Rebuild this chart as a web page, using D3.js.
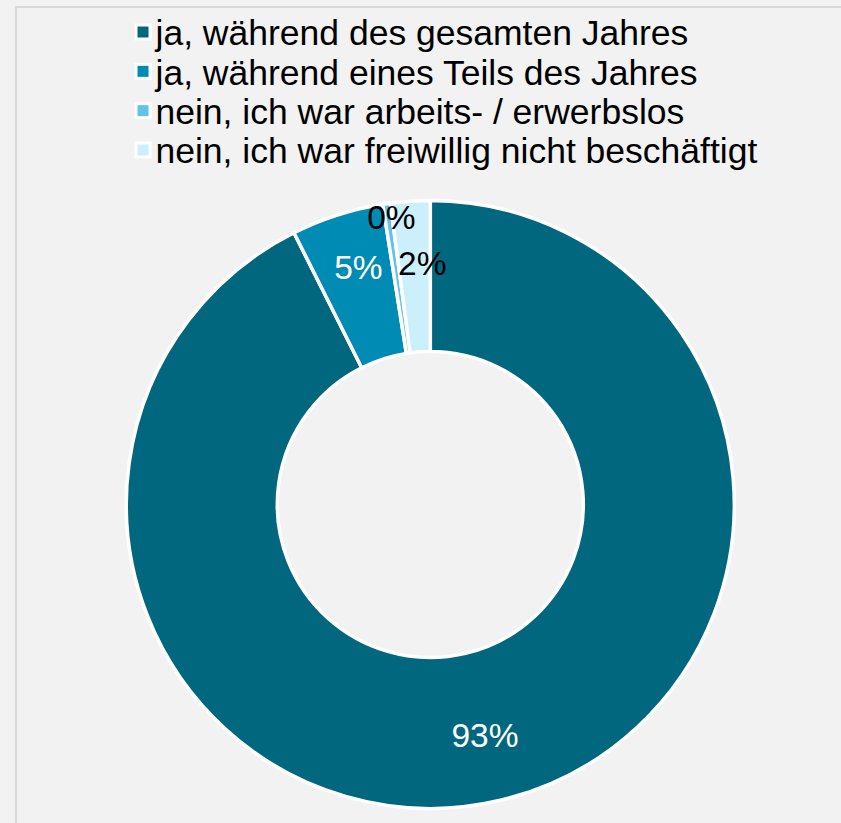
<!DOCTYPE html>
<html>
<head>
    <meta charset="utf-8">
    <script src="https://cdn.jsdelivr.net/npm/d3@7"></script>
    <style>
        body { margin: 0; background: #f2f2f2; }
        text { font-family: Arial, "Liberation Sans", sans-serif; }
    </style>
</head>
<body>
<div class="chart"></div>
<script>
var width = 841,
    height = 823;

// data
var categories = [
    'ja, während des gesamten Jahres',
    'ja, während eines Teils des Jahres',
    'nein, ich war arbeits- / erwerbslos',
    'nein, ich war freiwillig nicht beschäftigt'
];
var shares = [92.6, 4.9, 0.4, 2.1];

var colors = ['#00677f', '#008bb5', '#62c2ea', '#ccf0fb'];
var labelColors = ['#ffffff', '#ffffff', '#000000', '#000000'];
// hand placement of small-slice labels, relative to centroid
var labelNudge = [[2, 8], [-2, -20], [-6, -61], [7, -14]];

var cx = 430.3, cy = 504.5,
    outerR = 304, innerR = 153;

var svg = d3.select('.chart').append('svg')
        .attr('width', width)
        .attr('height', height);

svg.append('rect')
        .attr('x', 0).attr('y', 0)
        .attr('width', width).attr('height', height)
        .attr('fill', '#f2f2f2');

// chart frame
svg.append('rect')
        .attr('x', 16).attr('y', 7)
        .attr('width', 900).attr('height', 900)
        .attr('fill', 'none')
        .attr('stroke', '#d9d9d9')
        .attr('stroke-width', 2);

// ======================
// donut
// ======================
var pie = d3.pie().sort(null).value(function (d) { return d; });
var arc = d3.arc().innerRadius(innerR).outerRadius(outerR);
var arcs = pie(shares);

var g = svg.append('g').attr('transform', 'translate(' + cx + ',' + cy + ')');

g.selectAll('path.slice')
        .data(arcs)
        .enter().append('path')
        .attr('class', 'slice')
        .attr('d', arc)
        .attr('fill', function (d, i) { return colors[i]; })
        .attr('stroke', '#ffffff')
        .attr('stroke-width', 3.5)
        .attr('stroke-linejoin', 'miter');

g.selectAll('text.lbl')
        .data(arcs)
        .enter().append('text')
        .attr('class', 'lbl')
        .attr('x', function (d, i) { return arc.centroid(d)[0] + labelNudge[i][0]; })
        .attr('y', function (d, i) { return arc.centroid(d)[1] + labelNudge[i][1]; })
        .attr('dy', '0.36em')
        .attr('text-anchor', 'middle')
        .attr('font-size', 33.5)
        .attr('fill', function (d, i) { return labelColors[i]; })
        .text(function (d) { return Math.round(d.data) + '%'; });

// ======================
// legend
// ======================
var legend = svg.append('g').attr('transform', 'translate(136,0)');
var rowY = d3.scalePoint().domain(d3.range(categories.length)).range([32.5, 150.5]);

var row = legend.selectAll('g.row')
        .data(categories)
        .enter().append('g')
        .attr('class', 'row')
        .attr('transform', function (d, i) { return 'translate(0,' + rowY(i) + ')'; });

row.append('rect')
        .attr('x', 0).attr('y', -7.5)
        .attr('width', 14).attr('height', 14)
        .attr('fill', function (d, i) { return colors[i]; })
        .attr('stroke', '#ffffff')
        .attr('stroke-width', 3);

row.append('text')
        .attr('x', 19.5)
        .attr('y', 0)
        .attr('dy', '0.36em')
        .attr('font-size', 35.5)
        .attr('fill', '#000000')
        .text(function (d) { return d; });
</script>
</body>
</html>
